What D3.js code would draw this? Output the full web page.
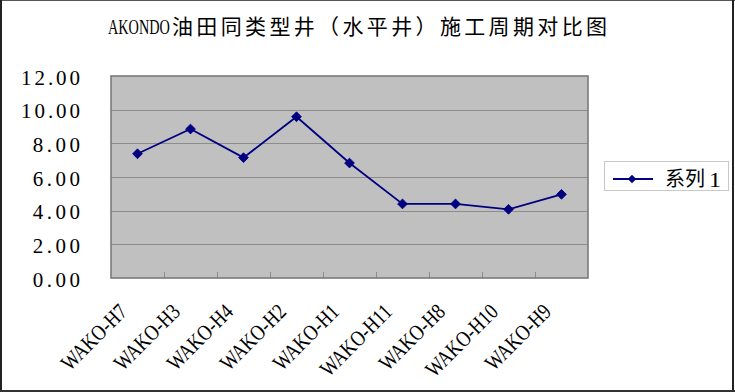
<!DOCTYPE html>
<html><head><meta charset="utf-8">
<script src="https://cdn.jsdelivr.net/npm/d3@7"></script>
<style>body{margin:0;background:#fff}svg{display:block}</style>
</head><body>
<svg id="c" width="735" height="392"></svg>
<script>
const categories = ["WAKO-H7","WAKO-H3","WAKO-H4","WAKO-H2","WAKO-H1","WAKO-H11","WAKO-H8","WAKO-H10","WAKO-H9"];
const values = [7.38, 8.85, 7.15, 9.58, 6.83, 4.40, 4.40, 4.08, 4.97];
const yTicks = [0, 2, 4, 6, 8, 10, 12];
const titleLatin = "AKONDO";
const titleCJK = "油田同类型井（水平井）施工周期对比图";
const seriesName = "系列1";

const svg = d3.select("#c");
const W = 735, H = 392;
const plot = {l: 111, t: 76, r: 588, b: 278};
const serif = "'Liberation Serif','DejaVu Serif',serif";
const cjk = "'Noto Sans CJK SC','Noto Sans',sans-serif";
const navy = "#000080";

// outer border
svg.append("rect").attr("x",0).attr("y",0).attr("width",W).attr("height",H).attr("fill","#fff");
svg.append("line").attr("x1",0).attr("x2",W).attr("y1",0.5).attr("y2",0.5).attr("stroke","#555").attr("stroke-width",1);
svg.append("line").attr("x1",1).attr("x2",1).attr("y1",0).attr("y2",H).attr("stroke","#222").attr("stroke-width",2);
svg.append("line").attr("x1",W-2).attr("x2",W-2).attr("y1",0).attr("y2",H).attr("stroke","#222").attr("stroke-width",2);
svg.append("line").attr("x1",0).attr("x2",W).attr("y1",H-1).attr("y2",H-1).attr("stroke","#333").attr("stroke-width",2);

const x = d3.scaleBand().domain(categories).range([plot.l, plot.r]).paddingInner(0).paddingOuter(0);
const y = d3.scaleLinear().domain([0, 12]).range([plot.b, plot.t]);

// plot area
svg.append("rect").attr("x",plot.l).attr("y",plot.t).attr("width",plot.r-plot.l).attr("height",plot.b-plot.t)
  .attr("fill","#c0c0c0");

// gridlines
svg.append("g").selectAll("line").data(yTicks.filter(d=>d>0 && d<12)).join("line")
  .attr("x1",plot.l).attr("x2",plot.r).attr("y1",d=>Math.round(y(d))+0.5).attr("y2",d=>Math.round(y(d))+0.5)
  .attr("stroke","#8c8c8c").attr("stroke-width",1);

// category ticks (inside, at boundaries)
svg.append("g").selectAll("line").data(categories.slice(1)).join("line")
  .attr("x1",d=>Math.round(x(d))+0.5).attr("x2",d=>Math.round(x(d))+0.5)
  .attr("y1",plot.b-6).attr("y2",plot.b)
  .attr("stroke","#8c8c8c").attr("stroke-width",1);

// plot border
svg.append("rect").attr("x",plot.l).attr("y",plot.t).attr("width",plot.r-plot.l).attr("height",plot.b-plot.t)
  .attr("fill","none").attr("stroke","#7a7a7a").attr("stroke-width",1.6);

// y labels
svg.append("g").selectAll("text").data(yTicks).join("text")
  .attr("x",80).attr("y",d=>y(d)+8.8)
  .attr("text-anchor","end")
  .attr("font-family",serif).attr("font-size",21).attr("fill","#000")
  .attr("textLength",d=>d3.format(".2f")(d).length*11.8).attr("lengthAdjust","spacing")
  .text(d=>d3.format(".2f")(d));

// x labels
svg.append("g").selectAll("text").data(categories).join("text")
  .attr("transform",d=>`translate(${x(d)+x.bandwidth()/2-9},313) rotate(-45) scale(0.83,1)`)
  .attr("text-anchor","end")
  .attr("font-family",serif).attr("font-size",22).attr("fill","#000")
  .text(d=>d);

// series line
const cx = d=>x(d)+x.bandwidth()/2;
svg.append("path").datum(categories.map((c,i)=>[cx(c), y(values[i])]))
  .attr("d", d3.line()).attr("fill","none").attr("stroke",navy).attr("stroke-width",1.8);

svg.append("g").selectAll("path").data(categories).join("path")
  .attr("transform",(c,i)=>`translate(${cx(c)},${y(values[i])}) rotate(45)`)
  .attr("d", d3.symbol().type(d3.symbolSquare).size(48))
  .attr("fill",navy).attr("stroke",navy).attr("stroke-width",0.8);

// title
svg.append("text").attr("transform","translate(108,34) scale(0.68,1)")
  .attr("font-family",serif).attr("font-size",21).attr("fill","#000")
  .text(titleLatin);
svg.append("text").attr("x",172).attr("y",33.5)
  .attr("font-family",cjk).attr("font-size",21).attr("fill","#000")
  .attr("textLength",435).attr("lengthAdjust","spacing").text(titleCJK);

// legend
const lg = svg.append("g");
lg.append("rect").attr("x",604.5).attr("y",161.5).attr("width",124).attr("height",29)
  .attr("fill","#fff").attr("stroke","#c8c8c8").attr("stroke-width",1);
lg.append("line").attr("x1",613).attr("x2",653).attr("y1",179).attr("y2",179).attr("stroke",navy).attr("stroke-width",1.8);
lg.append("path").attr("transform","translate(632,179) rotate(45)")
  .attr("d", d3.symbol().type(d3.symbolSquare).size(36)).attr("fill",navy);
lg.append("text").attr("x",665).attr("y",186)
  .attr("font-family",cjk).attr("font-size",20).attr("fill","#000").text(seriesName.slice(0,2));
lg.append("text").attr("x",709).attr("y",186.5)
  .attr("font-family",serif).attr("font-size",20).attr("fill","#000")
  .attr("textLength",12).attr("lengthAdjust","spacingAndGlyphs").text(seriesName.slice(2));
</script>
</body></html>
